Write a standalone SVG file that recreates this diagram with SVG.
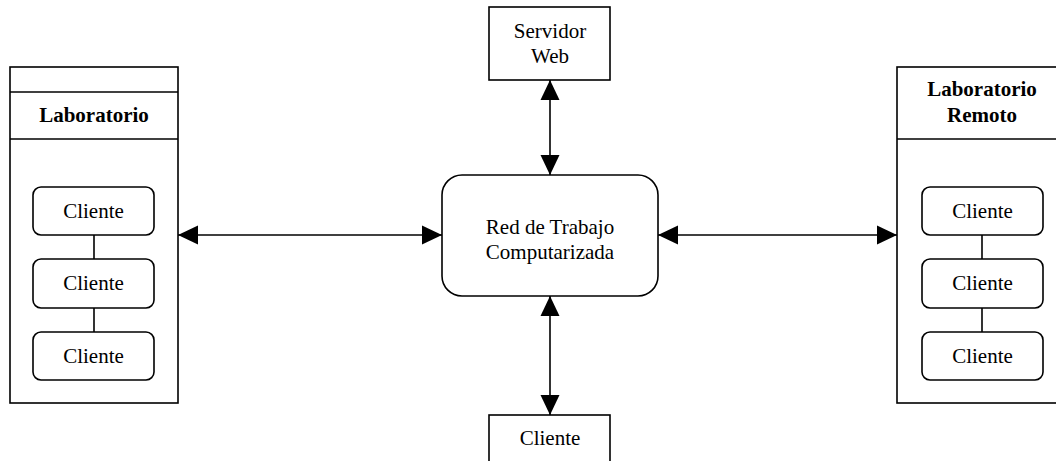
<svg xmlns="http://www.w3.org/2000/svg" width="1056" height="461" viewBox="0 0 1056 461">
  <style>
    .box { fill: #ffffff; stroke: #000000; stroke-width: 1.6; }
    .rule { stroke: #000000; stroke-width: 1.6; fill: none; }
    .link { stroke: #000000; stroke-width: 1.6; fill: none; }
    .txt { font-family: "Liberation Serif", "Times New Roman", serif; font-size: 21px; fill: #000000; text-anchor: middle; }
    .bold { font-weight: bold; }
  </style>
  <defs>
    <marker id="arrow" viewBox="0 0 20 20" refX="20" refY="10" markerWidth="20" markerHeight="20" markerUnits="userSpaceOnUse" orient="auto-start-reverse">
      <path d="M0,0.5 L20,10 L0,19.5 z" fill="#000000"/>
    </marker>
  </defs>

  <rect width="1056" height="461" fill="#ffffff"/>

  <!-- Left laboratory container -->
  <g id="laboratorio">
    <rect class="box" x="10" y="67" width="168" height="336"/>
    <line class="rule" x1="10" y1="92" x2="178" y2="92"/>
    <line class="rule" x1="10" y1="139" x2="178" y2="139"/>
    <text class="txt bold" x="94" y="122">Laboratorio</text>
  </g>
  <g id="lab-cliente-1">
    <rect class="box" x="33" y="187" width="121" height="48" rx="8"/>
    <text class="txt" x="93.5" y="218">Cliente</text>
  </g>
  <g id="lab-cliente-2">
    <rect class="box" x="33" y="259" width="121" height="49" rx="8"/>
    <text class="txt" x="93.5" y="290">Cliente</text>
  </g>
  <g id="lab-cliente-3">
    <rect class="box" x="33" y="332" width="121" height="48" rx="8"/>
    <text class="txt" x="93.5" y="363">Cliente</text>
  </g>

  <!-- Remote laboratory container -->
  <g id="laboratorio-remoto">
    <rect class="box" x="897" y="67" width="168" height="336"/>
    <line class="rule" x1="897" y1="139" x2="1065" y2="139"/>
    <text class="txt bold" x="982" y="96">Laboratorio</text>
    <text class="txt bold" x="982" y="122">Remoto</text>
  </g>
  <g id="remoto-cliente-1">
    <rect class="box" x="922" y="187" width="121" height="48" rx="8"/>
    <text class="txt" x="982.5" y="218">Cliente</text>
  </g>
  <g id="remoto-cliente-2">
    <rect class="box" x="922" y="259" width="121" height="49" rx="8"/>
    <text class="txt" x="982.5" y="290">Cliente</text>
  </g>
  <g id="remoto-cliente-3">
    <rect class="box" x="922" y="332" width="121" height="48" rx="8"/>
    <text class="txt" x="982.5" y="363">Cliente</text>
  </g>

  <!-- Central nodes -->
  <g id="servidor-web">
    <rect class="box" x="489" y="7" width="121" height="73"/>
    <text class="txt" x="550" y="38">Servidor</text>
    <text class="txt" x="550" y="63">Web</text>
  </g>
  <g id="red-de-trabajo">
    <rect class="box" x="442" y="175" width="216" height="121" rx="20"/>
    <text class="txt" x="550" y="234">Red de Trabajo</text>
    <text class="txt" x="550" y="259">Computarizada</text>
  </g>
  <g id="cliente-externo">
    <rect class="box" x="489" y="415" width="121" height="60"/>
    <text class="txt" x="550" y="445">Cliente</text>
  </g>

  <!-- Connectors -->
  <g id="connectors">
    <line class="link" x1="94" y1="235" x2="94" y2="259"/>
    <line class="link" x1="94" y1="308" x2="94" y2="332"/>
    <line class="link" x1="982" y1="235" x2="982" y2="259"/>
    <line class="link" x1="982" y1="308" x2="982" y2="332"/>
    <line class="link" x1="178" y1="235" x2="442" y2="235" marker-start="url(#arrow)" marker-end="url(#arrow)"/>
    <line class="link" x1="658" y1="235" x2="897" y2="235" marker-start="url(#arrow)" marker-end="url(#arrow)"/>
    <line class="link" x1="550" y1="80" x2="550" y2="175" marker-start="url(#arrow)" marker-end="url(#arrow)"/>
    <line class="link" x1="550" y1="296" x2="550" y2="415" marker-start="url(#arrow)" marker-end="url(#arrow)"/>
  </g>
</svg>
